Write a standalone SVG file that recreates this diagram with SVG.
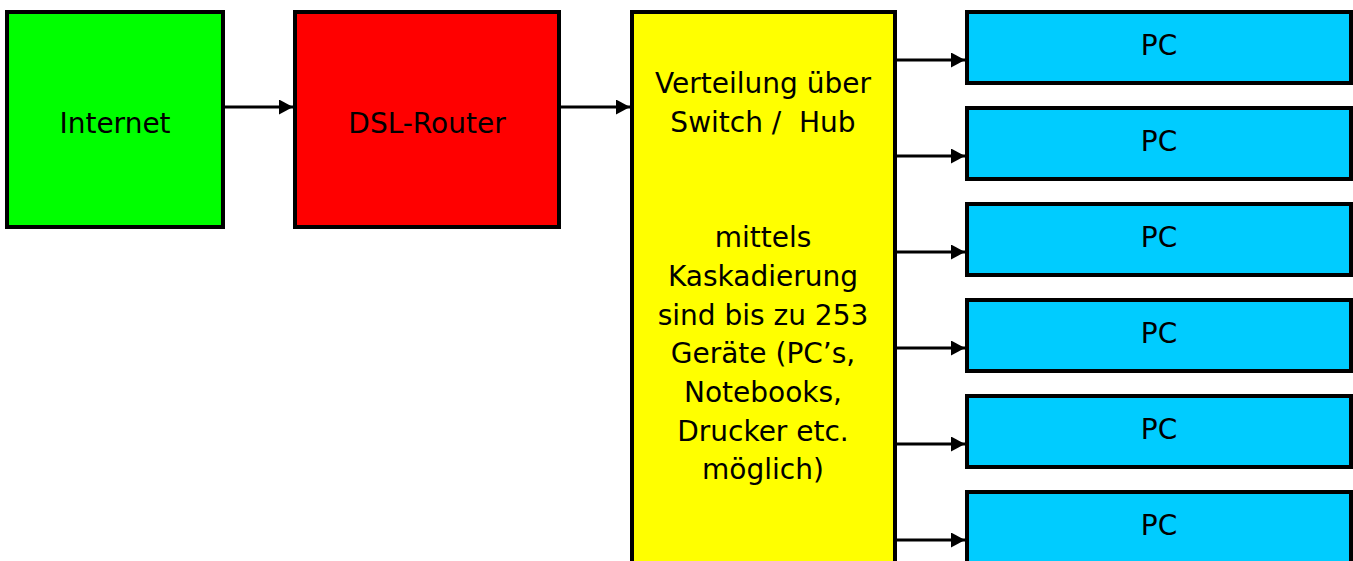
<svg xmlns="http://www.w3.org/2000/svg" width="1353" height="561" viewBox="0 0 1353 561">
<style>
.box{stroke:#000;stroke-width:4}
.t{font-family:"DejaVu Sans",Verdana,sans-serif;font-size:28px;fill:#000;text-anchor:middle}
.c{stroke:#000;stroke-width:3;fill:none;marker-end:url(#ah)}
</style>
<defs>
<marker id="ah" markerUnits="userSpaceOnUse" markerWidth="15" markerHeight="15" refX="14" refY="7.5" orient="auto">
<path d="M0,0 L14,7.5 L0,15 z" fill="#000"/>
</marker>
</defs>
<rect width="1353" height="561" fill="#fff"/>
<g id="connectors">
<line class="c" x1="224" y1="107" x2="293" y2="107"/>
<line class="c" x1="560" y1="107" x2="630" y2="107"/>
<line class="c" x1="896" y1="60" x2="965" y2="60"/>
<line class="c" x1="896" y1="156" x2="965" y2="156"/>
<line class="c" x1="896" y1="252" x2="965" y2="252"/>
<line class="c" x1="896" y1="348" x2="965" y2="348"/>
<line class="c" x1="896" y1="444" x2="965" y2="444"/>
<line class="c" x1="896" y1="540" x2="965" y2="540"/>
</g>
<g id="internet">
<rect class="box" x="7" y="12" width="216" height="215" fill="#00FF00"/>
<text class="t" x="115" y="133">Internet</text>
</g>
<g id="router">
<rect class="box" x="295" y="12" width="264" height="215" fill="#FF0000"/>
<text class="t" x="427" y="133">DSL-Router</text>
</g>
<g id="switch">
<rect class="box" x="632" y="12" width="263" height="570" fill="#FFFF00"/>
<text class="t" x="763" y="93">Verteilung über</text>
<text class="t" x="763" y="132">Switch /&#160; Hub</text>
<text class="t" x="763" y="247">mittels</text>
<text class="t" x="763" y="286">Kaskadierung</text>
<text class="t" x="763" y="325">sind bis zu 253</text>
<text class="t" x="763" y="363">Geräte (PC’s,</text>
<text class="t" x="763" y="402">Notebooks,</text>
<text class="t" x="763" y="441">Drucker etc.</text>
<text class="t" x="763" y="479">möglich)</text>
</g>
<g id="pc1"><rect class="box" x="967" y="12" width="384" height="71" fill="#00CCFF"/><text class="t" x="1159" y="55">PC</text></g>
<g id="pc2"><rect class="box" x="967" y="108" width="384" height="71" fill="#00CCFF"/><text class="t" x="1159" y="151">PC</text></g>
<g id="pc3"><rect class="box" x="967" y="204" width="384" height="71" fill="#00CCFF"/><text class="t" x="1159" y="247">PC</text></g>
<g id="pc4"><rect class="box" x="967" y="300" width="384" height="71" fill="#00CCFF"/><text class="t" x="1159" y="343">PC</text></g>
<g id="pc5"><rect class="box" x="967" y="396" width="384" height="71" fill="#00CCFF"/><text class="t" x="1159" y="439">PC</text></g>
<g id="pc6"><rect class="box" x="967" y="492" width="384" height="71" fill="#00CCFF"/><text class="t" x="1159" y="535">PC</text></g>
</svg>
